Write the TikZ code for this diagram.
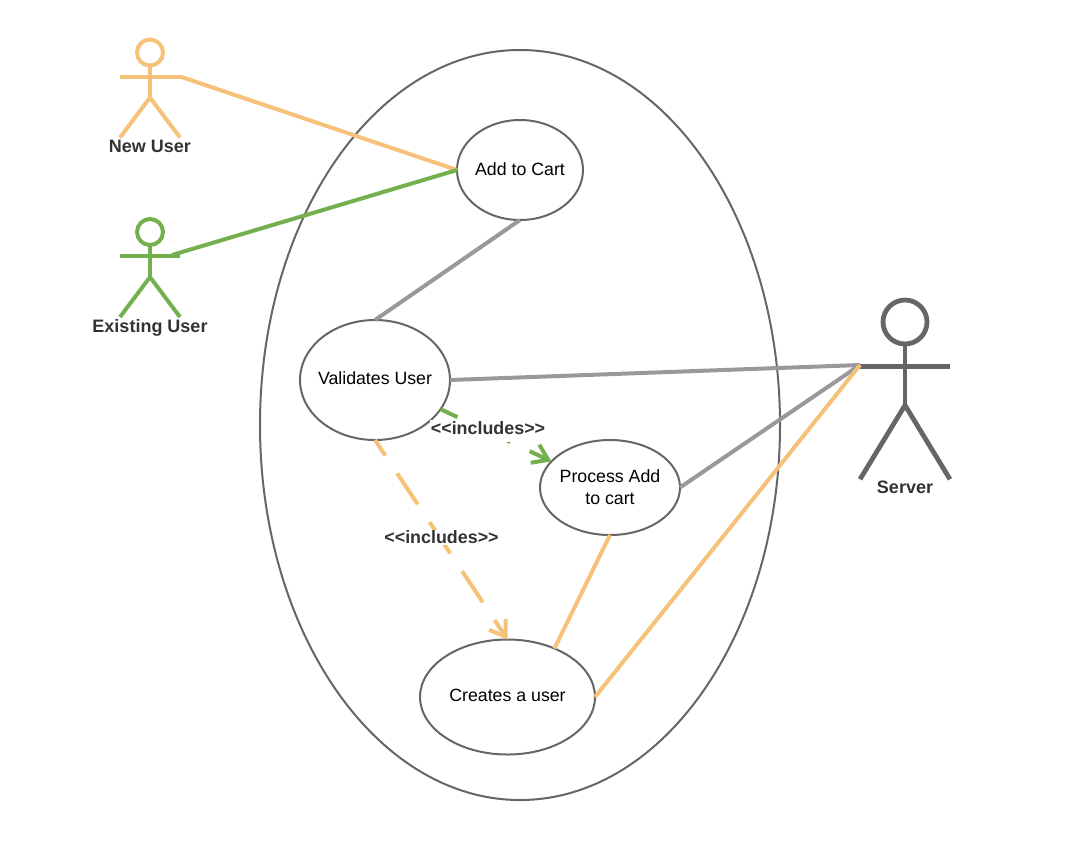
\documentclass[tikz,border=0pt]{standalone}
\usepackage{fontspec}
\setmainfont{Liberation Sans}
\usetikzlibrary{arrows.meta,shapes.geometric}
\definecolor{useorange}{HTML}{F6C27A}
\definecolor{usegreen}{HTML}{74B14E}
\definecolor{usegrey}{HTML}{999999}
\definecolor{usedark}{HTML}{666666}
\definecolor{usetext}{HTML}{333333}
\tikzset{
	usecase/.style={draw=usedark, line width=1.5pt, ellipse, inner sep=-14pt, outer sep=0pt, align=center, font=\fontsize{13.3}{16.5}\selectfont},
	actorname/.style={text=usetext, font=\fontsize{13.5}{16}\selectfont\bfseries},
	stereotype/.style={text=usetext, fill=white, inner sep=1pt, font=\fontsize{13.4}{16}\selectfont\bfseries},
	link/.style={line width=3pt},
	includes/.style={line width=3pt, dash pattern=on 28pt off 16pt, dash phase=14pt, -{Straight Barb[length=11pt,width=15pt,line width=3pt]}},
}
% stick figure: colour:width of line, name, centre of head, radius of head, size factors
\def\stickman[#1:#2](#3)(#4,#5)(#6)(#7,#8){
	\draw[color=#1, line width=#2] (#4, #5) circle (#6);
	\draw[color=#1, line width=#2] (#4, #5+#6) -- (#4, #5+45*#8);
	\draw[color=#1, line width=#2] (#4-30*#7, #5+24*#8) -- (#4+30*#7, #5+24*#8);
	\draw[color=#1, line width=#2] (#4-30*#7, #5+85*#8) -- (#4, #5+45*#8) -- (#4+30*#7, #5+85*#8);
	\coordinate (#3) at (#4+30*#7, #5+24*#8);
}
\begin{document}
\begin{tikzpicture}[x=0.75pt, y=-0.75pt]
		\useasboundingbox (0, 0) rectangle (1070, 840);
		
		\node[usecase, minimum width=390pt, minimum height=562.5pt] (boundary) at (520, 425) {};
		
		\node[usecase, minimum width=94.5pt, minimum height=75pt] (addcart) at (520, 170) {\raisebox{0.8pt}{Add to Cart}};
		\node[usecase, minimum width=112.5pt, minimum height=90pt] (validate) at (375, 380) {\raisebox{3pt}{Validates User}};
		\node[usecase, minimum width=105pt, minimum height=71.25pt] (process) at (610, 487.5) {\raisebox{0.75pt}{Process Add}\\\raisebox{0.75pt}{to cart}};
		\node[usecase, minimum width=131.25pt, minimum height=86.25pt] (creates) at (507.5, 697) {\raisebox{2.2pt}{Creates a user}};
		
		\stickman[useorange:3pt](newhand)(150, 52.5)(13)(1, 1)
		\node[actorname] (newuser) at (150, 146.5) {New User};
		\stickman[usegreen:3pt](oldhand)(150, 232)(13)(1, 1)
		\node[actorname] (olduser) at (150, 328) {Existing User};
		\stickman[usedark:3.6pt](serverhand)(905, 322)(22)(1.5, 1.85)
		\node[actorname] (server) at (905, 487) {Server};
		
		\coordinate (oldfrom) at (172, 255);
		\coordinate (serverfrom) at (860, 365);
		
		\draw[link, color=useorange] (newhand) -- (addcart.west);
		\draw[link, color=usegreen] (oldfrom) -- (addcart.west);
		
		\draw[link, color=usegrey] (addcart.south) -- (validate.north);
		\draw[link, color=usegrey] (validate.east) -- (serverfrom);
		\draw[link, color=usegrey] (process.east) -- (serverfrom);
		
		\draw[link, color=useorange] (process.south) -- (creates.46);
		\draw[link, color=useorange] (creates.east) -- (serverfrom);
		
		\draw[includes, color=usegreen] (validate.-24) -- (process.156);
		\draw[includes, color=useorange] (validate.south) -- (creates.north);
		
		\node[stereotype, anchor=base, text depth=5pt] (inclprocess) at (488, 434) {<{}<includes>{}>};
		\node[stereotype] (inclcreates) at (441.5, 537.5) {<{}<includes>{}>};
	\end{tikzpicture}
\end{document}
